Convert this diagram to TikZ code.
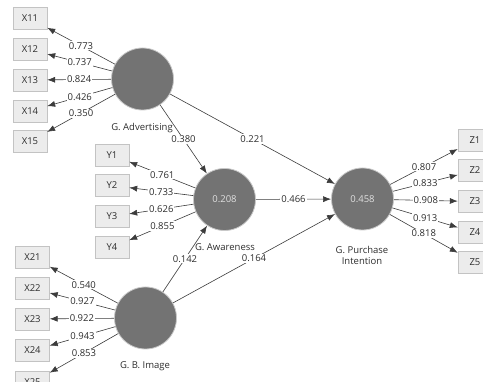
\documentclass[tikz,border=0pt]{standalone}
\usepackage{fontspec}
\setmainfont{Open Sans}
\usetikzlibrary{arrows.meta}
\definecolor{boxfill}{RGB}{236,236,236}
\definecolor{boxline}{RGB}{195,195,195}
\definecolor{circfill}{RGB}{115,115,115}
\definecolor{circrim}{RGB}{200,200,200}
\definecolor{txt}{RGB}{45,45,45}
\definecolor{edge}{RGB}{60,60,60}
\tikzset{
  indbox/.style={draw=boxline, fill=boxfill, minimum width=34pt, minimum height=22pt, inner sep=0pt, text=txt, font=\fontsize{9.5}{11}\selectfont},
  latent/.style={circle, fill=circfill, draw=circrim, line width=0.8pt, minimum size=62pt, inner sep=0pt, text=white!88!black, font=\fontsize{9.5}{11}\selectfont},
  lvlabel/.style={text=txt, font=\fontsize{9.5}{11}\selectfont, align=center, inner sep=0pt},
  conn/.style={draw=edge, line width=0.6pt, -{Latex[length=8pt,width=6pt]}},
  wt/.style={fill=white, text=txt, font=\fontsize{9.5}{11}\selectfont, inner sep=1pt, pos=0.5}
}
\begin{document}
\begin{tikzpicture}[x=1pt,y=-1pt]
\useasboundingbox (0,0) rectangle (483,382);
\clip (0,0) rectangle (483,382);
% latent variables
\node[latent] (adv) at (142.5,79) {};
\node[latent] (aw) at (224.5,199.5) {0.208};
\node[latent] (pi) at (362.5,199) {0.458};
\node[latent] (img) at (145.5,318) {};
\node[lvlabel] (advl) at (142,128) {G. Advertising};
\node[lvlabel] (awl) at (225,247) {G. Awareness};
\node[lvlabel] (pil) at (362,255) {G. Purchase\\Intention};
\node[lvlabel] (imgl) at (145,366) {G. B. Image};
% indicators
\node[indbox] (x11) at (30,18.5) {X11};
\node[indbox] (x12) at (30,49.5) {X12};
\node[indbox] (x13) at (30,80) {X13};
\node[indbox] (x14) at (30,111) {X14};
\node[indbox] (x15) at (30,141.5) {X15};
\node[indbox] (y1) at (112,155) {Y1};
\node[indbox] (y2) at (112,185.5) {Y2};
\node[indbox] (y3) at (112,216.5) {Y3};
\node[indbox] (y4) at (112,247.5) {Y4};
\node[indbox] (x21) at (32.5,257.5) {X21};
\node[indbox] (x22) at (32.5,288.5) {X22};
\node[indbox] (x23) at (32.5,319) {X23};
\node[indbox] (x24) at (32.5,350.5) {X24};
\node[indbox] (x25) at (32.5,382.5) {X25};
\node[indbox] (z1) at (475,140) {Z1};
\node[indbox] (z2) at (475,170.5) {Z2};
\node[indbox] (z3) at (475,201.5) {Z3};
\node[indbox] (z4) at (475,232.5) {Z4};
\node[indbox] (z5) at (475,262.5) {Z5};
% outer loadings
\draw[conn] (adv) -- node[wt] {0.773} (x11);
\draw[conn] (adv) -- node[wt] {0.737} (x12);
\draw[conn] (adv) -- node[wt] {0.824} (x13);
\draw[conn] (adv) -- node[wt] {0.426} (x14);
\draw[conn] (adv) -- node[wt] {0.350} (x15);
\draw[conn] (aw) -- node[wt] {0.761} (y1);
\draw[conn] (aw) -- node[wt] {0.733} (y2);
\draw[conn] (aw) -- node[wt] {0.626} (y3);
\draw[conn] (aw) -- node[wt] {0.855} (y4);
\draw[conn] (img) -- node[wt] {0.540} (x21);
\draw[conn] (img) -- node[wt] {0.927} (x22);
\draw[conn] (img) -- node[wt] {0.922} (x23);
\draw[conn] (img) -- node[wt] {0.943} (x24);
\draw[conn] (img) -- node[wt] {0.853} (x25);
\draw[conn] (pi) -- node[wt] {0.807} (z1);
\draw[conn] (pi) -- node[wt] {0.833} (z2);
\draw[conn] (pi) -- node[wt] {0.908} (z3);
\draw[conn] (pi) -- node[wt] {0.913} (z4);
\draw[conn] (pi) -- node[wt] {0.818} (z5);
% paths
\draw[conn] (adv) -- node[wt] {0.380} (aw);
\draw[conn] (adv) -- node[wt] {0.221} (pi);
\draw[conn] (aw) -- node[wt] {0.466} (pi);
\draw[conn] (img) -- node[wt] {0.142} (aw);
\draw[conn] (img) -- node[wt] {0.164} (pi);
\end{tikzpicture}
\end{document}
